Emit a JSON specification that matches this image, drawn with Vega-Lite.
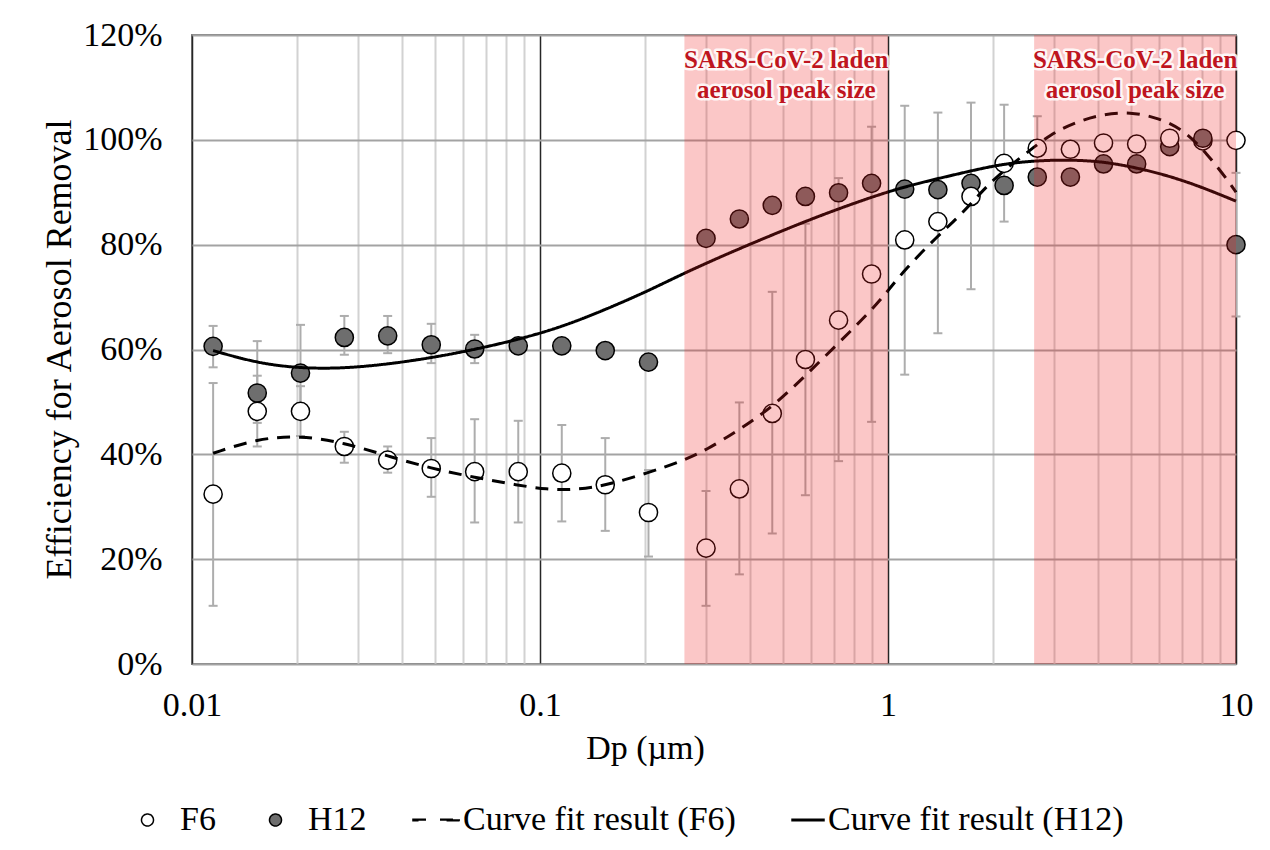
{
  "$schema": "https://vega.github.io/schema/vega-lite/v6.json",
  "width": 1044,
  "height": 629,
  "autosize": {"type": "none"},
  "padding": {"left": 192, "top": 35, "right": 34, "bottom": 186},
  "background": "white",
  "config": {
    "font": "Liberation Serif",
    "view": {"stroke": "#7f7f7f", "strokeWidth": 2},
    "legend": {
      "orient": "none",
      "legendX": -61.5,
      "legendY": 768,
      "direction": "horizontal",
      "title": null,
      "labelFont": "Liberation Serif",
      "labelFontSize": 34,
      "labelColor": "#000000",
      "labelLimit": 0,
      "labelOffset": 15.5,
      "columnPadding": 42,
      "symbolSize": 144,
      "symbolStrokeWidth": 1.5,
      "padding": 0
    }
  },
  "datasets": {
    "points": [
      {"series": "F6", "dp": 8.031, "eff": 0.998},
      {"series": "H12", "dp": 0.0115, "eff": 0.606},
      {"series": "H12", "dp": 0.0154, "eff": 0.517},
      {"series": "H12", "dp": 0.0205, "eff": 0.555},
      {"series": "H12", "dp": 0.0274, "eff": 0.623},
      {"series": "H12", "dp": 0.0365, "eff": 0.626},
      {"series": "H12", "dp": 0.0487, "eff": 0.609},
      {"series": "H12", "dp": 0.0649, "eff": 0.601},
      {"series": "H12", "dp": 0.0866, "eff": 0.607},
      {"series": "H12", "dp": 0.1155, "eff": 0.607},
      {"series": "H12", "dp": 0.154, "eff": 0.598},
      {"series": "H12", "dp": 0.205, "eff": 0.576},
      {"series": "H12", "dp": 0.3, "eff": 0.812},
      {"series": "H12", "dp": 0.374, "eff": 0.849},
      {"series": "H12", "dp": 0.465, "eff": 0.875},
      {"series": "H12", "dp": 0.579, "eff": 0.892},
      {"series": "H12", "dp": 0.721, "eff": 0.899},
      {"series": "H12", "dp": 0.897, "eff": 0.917},
      {"series": "H12", "dp": 1.117, "eff": 0.906},
      {"series": "H12", "dp": 1.391, "eff": 0.905},
      {"series": "H12", "dp": 1.732, "eff": 0.917},
      {"series": "H12", "dp": 2.156, "eff": 0.913},
      {"series": "H12", "dp": 2.685, "eff": 0.929},
      {"series": "H12", "dp": 3.343, "eff": 0.929},
      {"series": "H12", "dp": 4.162, "eff": 0.954},
      {"series": "H12", "dp": 5.182, "eff": 0.954},
      {"series": "H12", "dp": 6.451, "eff": 0.987},
      {"series": "H12", "dp": 8.031, "eff": 1.003},
      {"series": "H12", "dp": 10, "eff": 0.8},
      {"series": "F6", "dp": 0.0115, "eff": 0.324},
      {"series": "F6", "dp": 0.0154, "eff": 0.482},
      {"series": "F6", "dp": 0.0205, "eff": 0.482},
      {"series": "F6", "dp": 0.0274, "eff": 0.415},
      {"series": "F6", "dp": 0.0365, "eff": 0.389},
      {"series": "F6", "dp": 0.0487, "eff": 0.373},
      {"series": "F6", "dp": 0.0649, "eff": 0.367},
      {"series": "F6", "dp": 0.0866, "eff": 0.367},
      {"series": "F6", "dp": 0.1155, "eff": 0.364},
      {"series": "F6", "dp": 0.154, "eff": 0.342},
      {"series": "F6", "dp": 0.205, "eff": 0.289},
      {"series": "F6", "dp": 0.3, "eff": 0.221},
      {"series": "F6", "dp": 0.374, "eff": 0.334},
      {"series": "F6", "dp": 0.465, "eff": 0.478},
      {"series": "F6", "dp": 0.579, "eff": 0.581},
      {"series": "F6", "dp": 0.721, "eff": 0.656},
      {"series": "F6", "dp": 0.897, "eff": 0.744},
      {"series": "F6", "dp": 1.117, "eff": 0.809},
      {"series": "F6", "dp": 1.391, "eff": 0.844},
      {"series": "F6", "dp": 1.732, "eff": 0.892},
      {"series": "F6", "dp": 2.156, "eff": 0.955},
      {"series": "F6", "dp": 2.685, "eff": 0.984},
      {"series": "F6", "dp": 3.343, "eff": 0.982},
      {"series": "F6", "dp": 4.162, "eff": 0.994},
      {"series": "F6", "dp": 5.182, "eff": 0.992},
      {"series": "F6", "dp": 6.451, "eff": 1.003},
      {"series": "F6", "dp": 10, "eff": 0.999}
    ],
    "errors": [
      {"series": "F6", "dp": 0.0115, "lo": 0.111, "hi": 0.536},
      {"series": "F6", "dp": 0.0154, "lo": 0.415, "hi": 0.55},
      {"series": "F6", "dp": 0.0205, "lo": 0.435, "hi": 0.53},
      {"series": "F6", "dp": 0.0274, "lo": 0.384, "hi": 0.443},
      {"series": "F6", "dp": 0.0365, "lo": 0.365, "hi": 0.415},
      {"series": "F6", "dp": 0.0487, "lo": 0.319, "hi": 0.431},
      {"series": "F6", "dp": 0.0649, "lo": 0.27, "hi": 0.467},
      {"series": "F6", "dp": 0.0866, "lo": 0.27, "hi": 0.464},
      {"series": "F6", "dp": 0.1155, "lo": 0.272, "hi": 0.456},
      {"series": "F6", "dp": 0.154, "lo": 0.254, "hi": 0.431},
      {"series": "F6", "dp": 0.205, "lo": 0.205, "hi": 0.37},
      {"series": "F6", "dp": 0.3, "lo": 0.111, "hi": 0.33},
      {"series": "F6", "dp": 0.374, "lo": 0.171, "hi": 0.499},
      {"series": "F6", "dp": 0.465, "lo": 0.249, "hi": 0.71},
      {"series": "F6", "dp": 0.579, "lo": 0.322, "hi": 0.84},
      {"series": "F6", "dp": 0.721, "lo": 0.387, "hi": 0.927},
      {"series": "F6", "dp": 0.897, "lo": 0.462, "hi": 1.025},
      {"series": "F6", "dp": 1.117, "lo": 0.552, "hi": 1.065},
      {"series": "F6", "dp": 1.391, "lo": 0.631, "hi": 1.052},
      {"series": "F6", "dp": 1.732, "lo": 0.715, "hi": 1.071},
      {"series": "F6", "dp": 2.156, "lo": 0.844, "hi": 1.067},
      {"series": "F6", "dp": 2.685, "lo": 0.93, "hi": 1.045},
      {"series": "H12", "dp": 0.0115, "lo": 0.566, "hi": 0.645},
      {"series": "H12", "dp": 0.0154, "lo": 0.46, "hi": 0.616},
      {"series": "H12", "dp": 0.0205, "lo": 0.47, "hi": 0.647},
      {"series": "H12", "dp": 0.0274, "lo": 0.59, "hi": 0.664},
      {"series": "H12", "dp": 0.0365, "lo": 0.593, "hi": 0.664},
      {"series": "H12", "dp": 0.0487, "lo": 0.574, "hi": 0.649},
      {"series": "H12", "dp": 0.0649, "lo": 0.574, "hi": 0.628},
      {"series": "H12", "dp": 10, "lo": 0.663, "hi": 0.937}
    ],
    "curves": [
      {"series": "Curve fit result (F6)", "dp": 0.0115, "eff": 0.402},
      {"series": "Curve fit result (F6)", "dp": 0.0154, "eff": 0.430},
      {"series": "Curve fit result (F6)", "dp": 0.0205, "eff": 0.436},
      {"series": "Curve fit result (F6)", "dp": 0.0274, "eff": 0.422},
      {"series": "Curve fit result (F6)", "dp": 0.0365, "eff": 0.397},
      {"series": "Curve fit result (F6)", "dp": 0.0487, "eff": 0.373},
      {"series": "Curve fit result (F6)", "dp": 0.0649, "eff": 0.356},
      {"series": "Curve fit result (F6)", "dp": 0.0866, "eff": 0.341},
      {"series": "Curve fit result (F6)", "dp": 0.1045, "eff": 0.333},
      {"series": "Curve fit result (F6)", "dp": 0.1247, "eff": 0.332},
      {"series": "Curve fit result (F6)", "dp": 0.154, "eff": 0.34},
      {"series": "Curve fit result (F6)", "dp": 0.205, "eff": 0.365},
      {"series": "Curve fit result (F6)", "dp": 0.258, "eff": 0.388},
      {"series": "Curve fit result (F6)", "dp": 0.3, "eff": 0.408},
      {"series": "Curve fit result (F6)", "dp": 0.374, "eff": 0.447},
      {"series": "Curve fit result (F6)", "dp": 0.465, "eff": 0.49},
      {"series": "Curve fit result (F6)", "dp": 0.579, "eff": 0.55},
      {"series": "Curve fit result (F6)", "dp": 0.72, "eff": 0.612},
      {"series": "Curve fit result (F6)", "dp": 0.897, "eff": 0.675},
      {"series": "Curve fit result (F6)", "dp": 1.0, "eff": 0.712},
      {"series": "Curve fit result (F6)", "dp": 1.117, "eff": 0.752},
      {"series": "Curve fit result (F6)", "dp": 1.38, "eff": 0.815},
      {"series": "Curve fit result (F6)", "dp": 1.616, "eff": 0.856},
      {"series": "Curve fit result (F6)", "dp": 1.839, "eff": 0.898},
      {"series": "Curve fit result (F6)", "dp": 2.098, "eff": 0.936},
      {"series": "Curve fit result (F6)", "dp": 2.504, "eff": 0.975},
      {"series": "Curve fit result (F6)", "dp": 2.922, "eff": 1.01},
      {"series": "Curve fit result (F6)", "dp": 3.408, "eff": 1.032},
      {"series": "Curve fit result (F6)", "dp": 4.067, "eff": 1.048},
      {"series": "Curve fit result (F6)", "dp": 4.96, "eff": 1.054},
      {"series": "Curve fit result (F6)", "dp": 6.046, "eff": 1.041},
      {"series": "Curve fit result (F6)", "dp": 7.058, "eff": 1.019},
      {"series": "Curve fit result (F6)", "dp": 8.237, "eff": 0.975},
      {"series": "Curve fit result (F6)", "dp": 9.612, "eff": 0.917},
      {"series": "Curve fit result (F6)", "dp": 10, "eff": 0.9},
      {"series": "Curve fit result (H12)", "dp": 0.0115, "eff": 0.598},
      {"series": "Curve fit result (H12)", "dp": 0.0154, "eff": 0.574},
      {"series": "Curve fit result (H12)", "dp": 0.0205, "eff": 0.564},
      {"series": "Curve fit result (H12)", "dp": 0.0274, "eff": 0.564},
      {"series": "Curve fit result (H12)", "dp": 0.0365, "eff": 0.572},
      {"series": "Curve fit result (H12)", "dp": 0.0487, "eff": 0.584},
      {"series": "Curve fit result (H12)", "dp": 0.0649, "eff": 0.6},
      {"series": "Curve fit result (H12)", "dp": 0.0866, "eff": 0.619},
      {"series": "Curve fit result (H12)", "dp": 0.1155, "eff": 0.643},
      {"series": "Curve fit result (H12)", "dp": 0.154, "eff": 0.676},
      {"series": "Curve fit result (H12)", "dp": 0.205, "eff": 0.712},
      {"series": "Curve fit result (H12)", "dp": 0.258, "eff": 0.745},
      {"series": "Curve fit result (H12)", "dp": 0.344, "eff": 0.782},
      {"series": "Curve fit result (H12)", "dp": 0.429, "eff": 0.809},
      {"series": "Curve fit result (H12)", "dp": 0.534, "eff": 0.835},
      {"series": "Curve fit result (H12)", "dp": 0.666, "eff": 0.86},
      {"series": "Curve fit result (H12)", "dp": 0.831, "eff": 0.883},
      {"series": "Curve fit result (H12)", "dp": 0.99, "eff": 0.9},
      {"series": "Curve fit result (H12)", "dp": 1.2, "eff": 0.916},
      {"series": "Curve fit result (H12)", "dp": 1.683, "eff": 0.939},
      {"series": "Curve fit result (H12)", "dp": 2.098, "eff": 0.953},
      {"series": "Curve fit result (H12)", "dp": 2.6, "eff": 0.96},
      {"series": "Curve fit result (H12)", "dp": 3.28, "eff": 0.962},
      {"series": "Curve fit result (H12)", "dp": 4.07, "eff": 0.959},
      {"series": "Curve fit result (H12)", "dp": 5.0, "eff": 0.949},
      {"series": "Curve fit result (H12)", "dp": 6.29, "eff": 0.933},
      {"series": "Curve fit result (H12)", "dp": 7.9, "eff": 0.911},
      {"series": "Curve fit result (H12)", "dp": 10, "eff": 0.883}
    ],
    "zones": [
      {"from": 0.26, "to": 1, "center": 0.51, "label": "SARS-CoV-2 laden\naerosol peak size"},
      {"from": 2.63, "to": 10, "center": 5.13, "label": "SARS-CoV-2 laden\naerosol peak size"}
    ]
  },
  "layer": [
    {
      "data": {"name": "errors"},
      "mark": {"type": "rule", "color": "#adadad", "strokeWidth": 2},
      "encoding": {
        "x": {
          "field": "dp", "type": "quantitative",
          "scale": {"type": "log", "domain": [0.01, 10], "nice": false},
          "axis": {
            "title": "Dp (µm)",
            "values": [0.01, 0.02, 0.03, 0.04, 0.05, 0.06, 0.07, 0.08, 0.09, 0.1, 0.2, 0.3, 0.4, 0.5, 0.6, 0.7, 0.8, 0.9, 1, 2, 3, 4, 5, 6, 7, 8, 9, 10],
            "labelExpr": "datum.value == 0.01 ? '0.01' : datum.value == 0.1 ? '0.1' : datum.value == 1 ? '1' : datum.value == 10 ? '10' : ''",
            "ticks": false,
            "domain": false,
            "grid": true,
            "gridColor": {"condition": {"test": "datum.value == 0.01 || datum.value == 0.1 || datum.value == 1 || datum.value == 10", "value": "#262626"}, "value": "#d2d2d2"},
            "gridWidth": {"condition": {"test": "datum.value == 0.01 || datum.value == 0.1 || datum.value == 1 || datum.value == 10", "value": 1.5}, "value": 2},
            "labelFont": "Liberation Serif",
            "labelFontSize": 34,
            "labelColor": "#000000",
            "labelPadding": 24,
            "labelFlush": false,
            "labelOverlap": false,
            "labelBound": false,
            "titleFont": "Liberation Serif",
            "titleFontSize": 34,
            "titleFontWeight": "normal",
            "titleColor": "#000000",
            "titleX": 453,
            "titleY": 94,
            "titleAlign": "center",
            "titleBaseline": "alphabetic"
          }
        },
        "y": {
          "field": "lo", "type": "quantitative",
          "scale": {"domain": [0, 1.2], "nice": false},
          "axis": {
            "title": "Efficiency for Aerosol Removal",
            "values": [0, 0.2, 0.4, 0.6, 0.8, 1.0, 1.2],
            "format": ".0%",
            "ticks": false,
            "domain": false,
            "grid": true,
            "gridColor": "#a3a3a3",
            "gridWidth": 2,
            "labelFont": "Liberation Serif",
            "labelFontSize": 34,
            "labelColor": "#000000",
            "labelPadding": 30,
            "titleFont": "Liberation Serif",
            "titleFontSize": 36,
            "titleFontWeight": "normal",
            "titleColor": "#000000",
            "titleAngle": 270,
            "titleX": -122,
            "titleY": 314,
            "titleAlign": "center",
            "titleBaseline": "alphabetic"
          }
        },
        "y2": {"field": "hi"}
      }
    },
    {
      "data": {"name": "errors"},
      "mark": {"type": "tick", "orient": "horizontal", "color": "#adadad", "size": 9, "thickness": 2, "opacity": 1},
      "encoding": {
        "x": {"field": "dp", "type": "quantitative"},
        "y": {"field": "lo", "type": "quantitative"}
      }
    },
    {
      "data": {"name": "errors"},
      "mark": {"type": "tick", "orient": "horizontal", "color": "#adadad", "size": 9, "thickness": 2, "opacity": 1},
      "encoding": {
        "x": {"field": "dp", "type": "quantitative"},
        "y": {"field": "hi", "type": "quantitative"}
      }
    },
    {
      "data": {"name": "points"},
      "mark": {"type": "point", "strokeWidth": 1.5, "size": 330, "opacity": 1},
      "encoding": {
        "x": {"field": "dp", "type": "quantitative"},
        "y": {"field": "eff", "type": "quantitative"},
        "shape": {
          "field": "series", "type": "nominal",
          "scale": {"domain": ["F6", "H12", "Curve fit result (F6)", "Curve fit result (H12)"], "range": ["circle", "circle", "M-2.92,-0.125L-0.75,-0.125L-0.75,0.125L-2.92,0.125ZM1.58,-0.125L4.92,-0.125L4.92,0.125L1.58,0.125Z", "M-0.58,-0.125L4.75,-0.125L4.75,0.125L-0.58,0.125Z"]},
          "legend": {}
        },
        "fill": {
          "field": "series", "type": "nominal",
          "scale": {"domain": ["F6", "H12", "Curve fit result (F6)", "Curve fit result (H12)"], "range": ["#ffffff", "#6e6e6e", "#000000", "#000000"]},
          "legend": {}
        },
        "stroke": {
          "field": "series", "type": "nominal",
          "scale": {"domain": ["F6", "H12", "Curve fit result (F6)", "Curve fit result (H12)"], "range": ["#000000", "#000000", "#000000", "#000000"]},
          "legend": {}
        }
      }
    },
    {
      "data": {"name": "curves"},
      "mark": {"type": "line", "color": "#000000", "strokeWidth": 3, "interpolate": "basis"},
      "encoding": {
        "x": {"field": "dp", "type": "quantitative"},
        "y": {"field": "eff", "type": "quantitative"},
        "strokeDash": {
          "field": "series", "type": "nominal",
          "scale": {"domain": ["F6", "H12", "Curve fit result (F6)", "Curve fit result (H12)"], "range": [[1, 0], [1, 0], [13, 9], [1, 0]]},
          "legend": null
        }
      }
    },
    {
      "data": {"name": "zones"},
      "mark": {"type": "rect", "color": "#f01e1e", "opacity": 0.25},
      "encoding": {
        "x": {"field": "from", "type": "quantitative"},
        "x2": {"field": "to"},
        "y": {"datum": 0, "type": "quantitative"},
        "y2": {"datum": 1.2}
      }
    },
    {
      "data": {"name": "zones"},
      "mark": {"type": "text", "font": "Liberation Serif", "fontWeight": "bold", "fontSize": 25, "lineHeight": 30, "lineBreak": "\n", "align": "center", "baseline": "alphabetic", "fill": "#ffffff", "stroke": "#ffffff", "strokeWidth": 5, "strokeOpacity": 0.85, "strokeJoin": "round"},
      "encoding": {
        "x": {"field": "center", "type": "quantitative"},
        "y": {"datum": 1.137, "type": "quantitative"},
        "text": {"field": "label", "type": "nominal"}
      }
    },
    {
      "data": {"name": "zones"},
      "mark": {"type": "text", "font": "Liberation Serif", "fontWeight": "bold", "fontSize": 25, "lineHeight": 30, "lineBreak": "\n", "align": "center", "baseline": "alphabetic", "fill": "#bf1520"},
      "encoding": {
        "x": {"field": "center", "type": "quantitative"},
        "y": {"datum": 1.137, "type": "quantitative"},
        "text": {"field": "label", "type": "nominal"}
      }
    }
  ]
}
